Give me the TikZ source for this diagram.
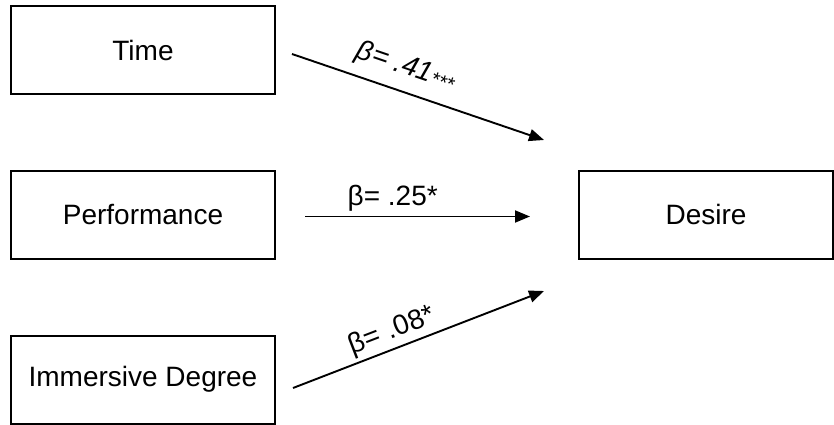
\documentclass[tikz,border=0pt]{standalone}
\usepackage{fontspec}
\setmainfont{Liberation Sans}
\usetikzlibrary{arrows.meta}
\begin{document}
\begin{tikzpicture}[x=1pt,y=-1pt,
  box/.style={draw,line width=2pt,minimum width=264pt,minimum height=88pt,inner sep=0pt,font=\fontsize{28}{32}\selectfont},
  conn/.style={line width=1.9pt,-{Triangle[length=15pt,width=12pt]}},
  lab/.style={font=\fontsize{28}{32}\selectfont}]
\useasboundingbox (0,0) rectangle (834,425);
\node[box] (time) at (143,50) {Time};
\node[box] (perf) at (143,214.5) {Performance};
\node[box] (imm) at (143,379.5) {Immersive Degree};
\node[box,minimum width=254pt] (des) at (706,214.5) {Desire};
\coordinate (t1) at (292,54);
\coordinate (t2) at (544,140);
\coordinate (p1) at (305,216.5);
\coordinate (p2) at (530,216.5);
\coordinate (i1) at (293,388);
\coordinate (i2) at (544,291);
\draw[conn] (t1) -- node[lab,sloped,above,pos=0.42,yshift=7pt]{\itshape β= .41\raisebox{-2pt}{\fontsize{20}{20}\selectfont ***}} (t2);
\draw[conn] (p1) -- node[lab,above,pos=0.39,yshift=1pt]{β= .25*} (p2);
\draw[conn] (i1) -- node[lab,sloped,above,pos=0.42,yshift=0pt]{β= .08*} (i2);
\end{tikzpicture}
\end{document}
